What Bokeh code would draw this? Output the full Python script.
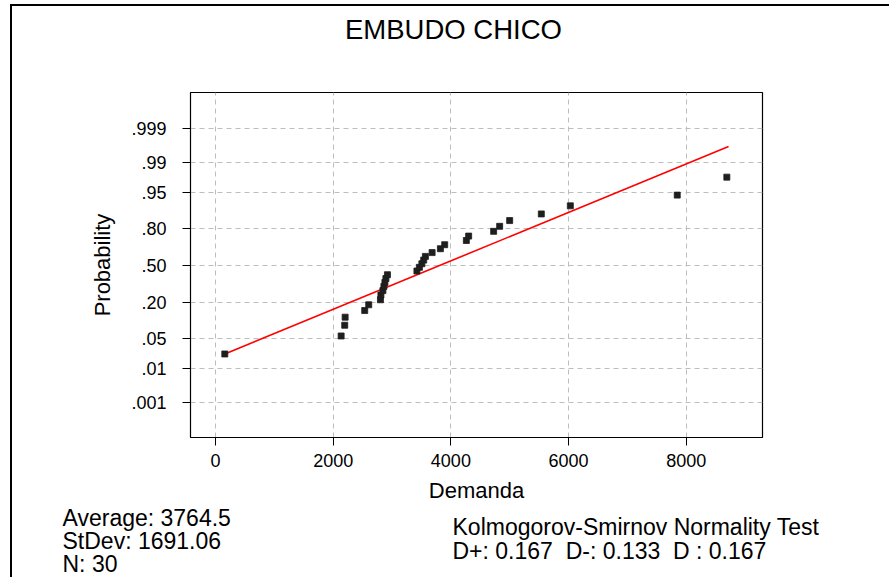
from statistics import NormalDist
from bokeh.plotting import figure
from bokeh.models import Label, FixedTicker, Range1d, ColumnDataSource
from bokeh.embed import file_html
from bokeh.resources import INLINE

# ---- data ----
demanda = [158, 2135, 2196, 2203, 2536, 2604, 2803, 2811, 2845, 2862, 2879, 2896, 2922,
           3423, 3465, 3507, 3538, 3567, 3681, 3822, 3895, 4263, 4302, 4727, 4829, 4999,
           5537, 6030, 7847, 8690]
probabilidad = [0.023, 0.056, 0.089, 0.122, 0.155, 0.188, 0.220, 0.253, 0.286, 0.319,
                0.352, 0.385, 0.418, 0.451, 0.484, 0.516, 0.549, 0.582, 0.615, 0.648,
                0.681, 0.714, 0.747, 0.780, 0.812, 0.845, 0.878, 0.911, 0.944, 0.977]
fit_demanda = [158, 8719]
fit_prob = [0.023, 0.9964]
prob_ticks = [0.001, 0.01, 0.05, 0.20, 0.50, 0.80, 0.95, 0.99, 0.999]
prob_labels = [".001", ".01", ".05", ".20", ".50", ".80", ".95", ".99", ".999"]
x_ticks = [0, 2000, 4000, 6000, 8000]
title_text = "EMBUDO CHICO"
stats_left = ["Average: 3764.5", "StDev: 1691.06", "N: 30"]
stats_right = ["Kolmogorov-Smirnov Normality Test",
               "D+: 0.167\u00a0 D-: 0.133\u00a0 D : 0.167"]

nd = NormalDist()
def probit(p):
    return round(nd.inv_cdf(p), 6)

FONT = "Liberation Sans"
W = 870
TOP_W = 879
TOP_H = 86
BOT_H = 74
BORDER = {"margin-left": "10px", "border-left": "2px solid black"}


def text_panel(w, h):
    f = figure(width=w, height=h, output_backend="svg", toolbar_location=None,
               x_range=Range1d(0, w), y_range=Range1d(h, 0),
               x_axis_type=None, y_axis_type=None, min_border=0)
    f.outline_line_color = None
    f.background_fill_alpha = 0
    f.border_fill_alpha = 0
    f.xgrid.visible = False
    f.ygrid.visible = False
    return f


# ---- title panel ----
top = text_panel(TOP_W, TOP_H)
top.styles = dict(BORDER, **{"margin-top": "4px", "border-top": "2px solid black"})
top.add_layout(Label(x=441, y=23, text=title_text, text_font=FONT,
                     text_font_size="27.5px", text_align="center",
                     text_baseline="middle", text_color="black"))

# ---- main plot ----
p = figure(width=W, height=2 + 345 + 76, output_backend="svg", toolbar_location=None,
           x_range=Range1d(-425, 9296), y_range=Range1d(-3.88, 3.905),
           min_border_left=178, min_border_right=120, min_border_top=2,
           min_border_bottom=76)
p.styles = dict(BORDER)
p.background_fill_color = "white"
p.border_fill_color = "white"
p.outline_line_color = "black"
p.outline_line_width = 1.2

p.xaxis.ticker = FixedTicker(ticks=x_ticks)
p.yaxis.ticker = FixedTicker(ticks=[probit(v) for v in prob_ticks])
p.yaxis.major_label_overrides = {probit(v): lab for v, lab in zip(prob_ticks, prob_labels)}
for ax in (p.xaxis[0], p.yaxis[0]):
    ax.axis_line_color = "black"
    ax.major_tick_line_color = "black"
    ax.major_tick_out = 8
    ax.major_tick_in = 0
    ax.minor_tick_line_color = None
    ax.major_label_text_font = FONT
    ax.major_label_text_font_size = "18px"
    ax.major_label_text_color = "black"
    ax.axis_label_text_font = FONT
    ax.axis_label_text_font_size = "22px"
    ax.axis_label_text_font_style = "normal"
    ax.axis_label_text_color = "black"
p.xaxis.axis_label = "Demanda"
p.yaxis.axis_label = "Probability"
p.xaxis.major_label_standoff = 8
p.xaxis.axis_label_standoff = 8
p.yaxis.major_label_standoff = 16
p.yaxis.axis_label_standoff = 13

for g in (p.xgrid[0], p.ygrid[0]):
    g.grid_line_color = "#bdbdbd"
    g.grid_line_dash = "5 4"
    g.grid_line_width = 1
p.ygrid.ticker = p.yaxis[0].ticker

p.line(x=fit_demanda, y=[probit(v) for v in fit_prob], line_color="#ff0000", line_width=1.6)

src = ColumnDataSource(dict(x=demanda, y=[nd.inv_cdf(v) for v in probabilidad]))
p.scatter(x="x", y="y", source=src, marker="square", size=6,
          fill_color="#1e1e1e", line_color="#1e1e1e", line_width=0.8)

# ---- statistics panel (overlaps the empty bottom strip of the main plot) ----
bot = text_panel(W, BOT_H)
bot.styles = dict(BORDER, **{"margin-top": "-10px"})
for i, t in enumerate(stats_left):
    bot.add_layout(Label(x=50, y=14 + 23 * i, text=t, text_font=FONT,
                         text_font_size="23px", text_align="left",
                         text_baseline="middle", text_color="black"))
for i, t in enumerate(stats_right):
    bot.add_layout(Label(x=440, y=23 + 24 * i, text=t, text_font=FONT,
                         text_font_size="23px", text_align="left",
                         text_baseline="middle", text_color="black"))

open("out.html", "w").write(file_html([top, p, bot], INLINE))
